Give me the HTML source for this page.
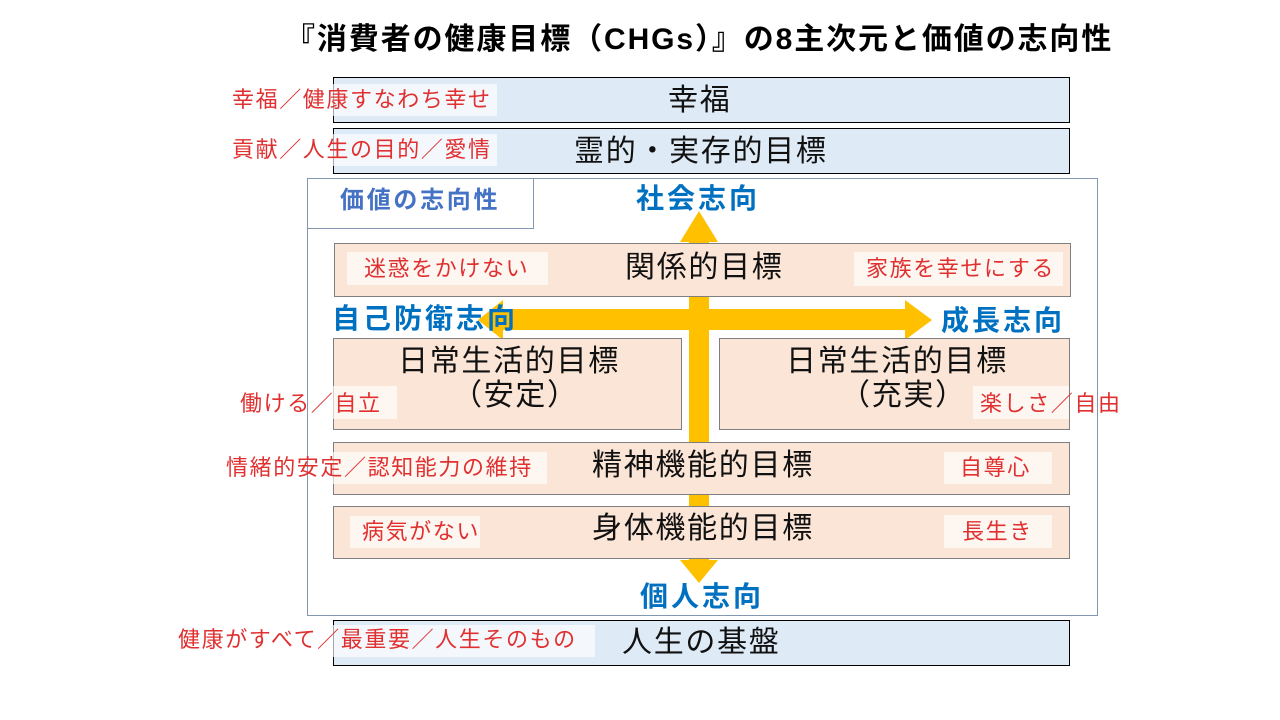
<!DOCTYPE html>
<html><head><meta charset="utf-8"><style>
body{margin:0;width:1280px;height:720px;background:#fff;position:relative;overflow:hidden;font-family:"Liberation Sans","Noto Sans CJK JP",sans-serif;}
.a{position:absolute;box-sizing:border-box;}
.blue{background:#deebf7;border:1px solid #000;}
.pk{background:#fbe5d6;border:1px solid #7f7f7f;}
.t{position:absolute;white-space:nowrap;color:#111;font-size:30px;letter-spacing:1.7px;line-height:1;}
.r{position:absolute;white-space:nowrap;color:#e03030;font-size:22px;letter-spacing:1.6px;line-height:1;}
.lb{position:absolute;background:rgba(255,255,255,0.65);}
.o{position:absolute;white-space:nowrap;color:#0070c0;font-size:28px;letter-spacing:3px;font-weight:bold;line-height:1;}
</style></head><body>
<div class="t" style="left:285px;top:25px;font-size:30px;letter-spacing:1.9px;font-weight:bold;color:#000;">『消費者の健康目標（CHGs）』の8主次元と価値の志向性</div>

<div class="a blue" style="left:333px;top:77px;width:737px;height:46px;"></div>
<div class="t" style="left:668px;top:86px;">幸福</div>
<div class="lb" style="left:333px;top:84px;width:164px;height:32px;"></div>
<div class="r" style="left:232px;top:89px;">幸福／健康すなわち幸せ</div>

<div class="a blue" style="left:333px;top:128px;width:737px;height:46px;"></div>
<div class="t" style="left:574px;top:137px;">霊的・実存的目標</div>
<div class="lb" style="left:333px;top:134px;width:164px;height:32px;"></div>
<div class="r" style="left:232px;top:139px;">貢献／人生の目的／愛情</div>

<div class="a" style="left:307px;top:178px;width:791px;height:438px;border:1px solid #8497b0;"></div>
<div class="a" style="left:307px;top:178px;width:227px;height:51px;border:1px solid #8497b0;"></div>
<div class="t" style="left:340px;top:189px;font-size:24px;letter-spacing:2.7px;font-weight:bold;color:#4472c4;">価値の志向性</div>

<svg class="a" style="left:0;top:0;" width="1280" height="720">
<polygon fill="#ffc000" points="689,242 689,560 680,560 699,583 718,560 709,560 709,242 718,242 699,211 680,242"/>
<polygon fill="#ffc000" points="503,309 905,309 905,300 932,320 905,340 905,330 503,330 503,340 478,320 503,300"/>
</svg>

<div class="o" style="left:636px;top:185px;">社会志向</div>

<div class="a pk" style="left:334px;top:243px;width:737px;height:54px;"></div>
<div class="t" style="left:625px;top:253px;">関係的目標</div>
<div class="lb" style="left:347px;top:252px;width:201px;height:33px;"></div>
<div class="r" style="left:364px;top:258px;">迷惑をかけない</div>
<div class="lb" style="left:854px;top:252px;width:209px;height:34px;"></div>
<div class="r" style="left:866px;top:258px;">家族を幸せにする</div>

<div class="o" style="left:332px;top:305px;">自己防衛志向</div>
<div class="o" style="left:941px;top:307px;">成長志向</div>

<div class="a pk" style="left:333px;top:338px;width:349px;height:92px;"></div>
<div class="t" style="left:398px;top:347px;">日常生活的目標</div>
<div class="t" style="left:452px;top:381px;">（安定）</div>
<div class="lb" style="left:333px;top:386px;width:64px;height:33px;"></div>
<div class="r" style="left:240px;top:393px;">働ける／自立</div>

<div class="a pk" style="left:719px;top:338px;width:351px;height:92px;"></div>
<div class="t" style="left:786px;top:347px;">日常生活的目標</div>
<div class="t" style="left:840px;top:381px;">（充実）</div>
<div class="lb" style="left:973px;top:386px;width:96px;height:33px;"></div>
<div class="r" style="left:980px;top:393px;">楽しさ／自由</div>

<div class="a pk" style="left:333px;top:442px;width:737px;height:53px;"></div>
<div class="t" style="left:592px;top:451px;">精神機能的目標</div>
<div class="lb" style="left:333px;top:452px;width:214px;height:32px;"></div>
<div class="r" style="left:226px;top:457px;">情緒的安定／認知能力の維持</div>
<div class="lb" style="left:944px;top:452px;width:108px;height:32px;"></div>
<div class="r" style="left:960px;top:457px;">自尊心</div>

<div class="a pk" style="left:333px;top:506px;width:737px;height:53px;"></div>
<div class="t" style="left:592px;top:514px;">身体機能的目標</div>
<div class="lb" style="left:350px;top:516px;width:130px;height:32px;"></div>
<div class="r" style="left:362px;top:521px;">病気がない</div>
<div class="lb" style="left:944px;top:515px;width:108px;height:33px;"></div>
<div class="r" style="left:962px;top:521px;">長生き</div>

<div class="o" style="left:640px;top:583px;">個人志向</div>

<div class="a blue" style="left:333px;top:620px;width:737px;height:46px;"></div>
<div class="t" style="left:622px;top:628px;">人生の基盤</div>
<div class="lb" style="left:333px;top:625px;width:262px;height:32px;"></div>
<div class="r" style="left:178px;top:629px;">健康がすべて／最重要／人生そのもの</div>
</body></html>
